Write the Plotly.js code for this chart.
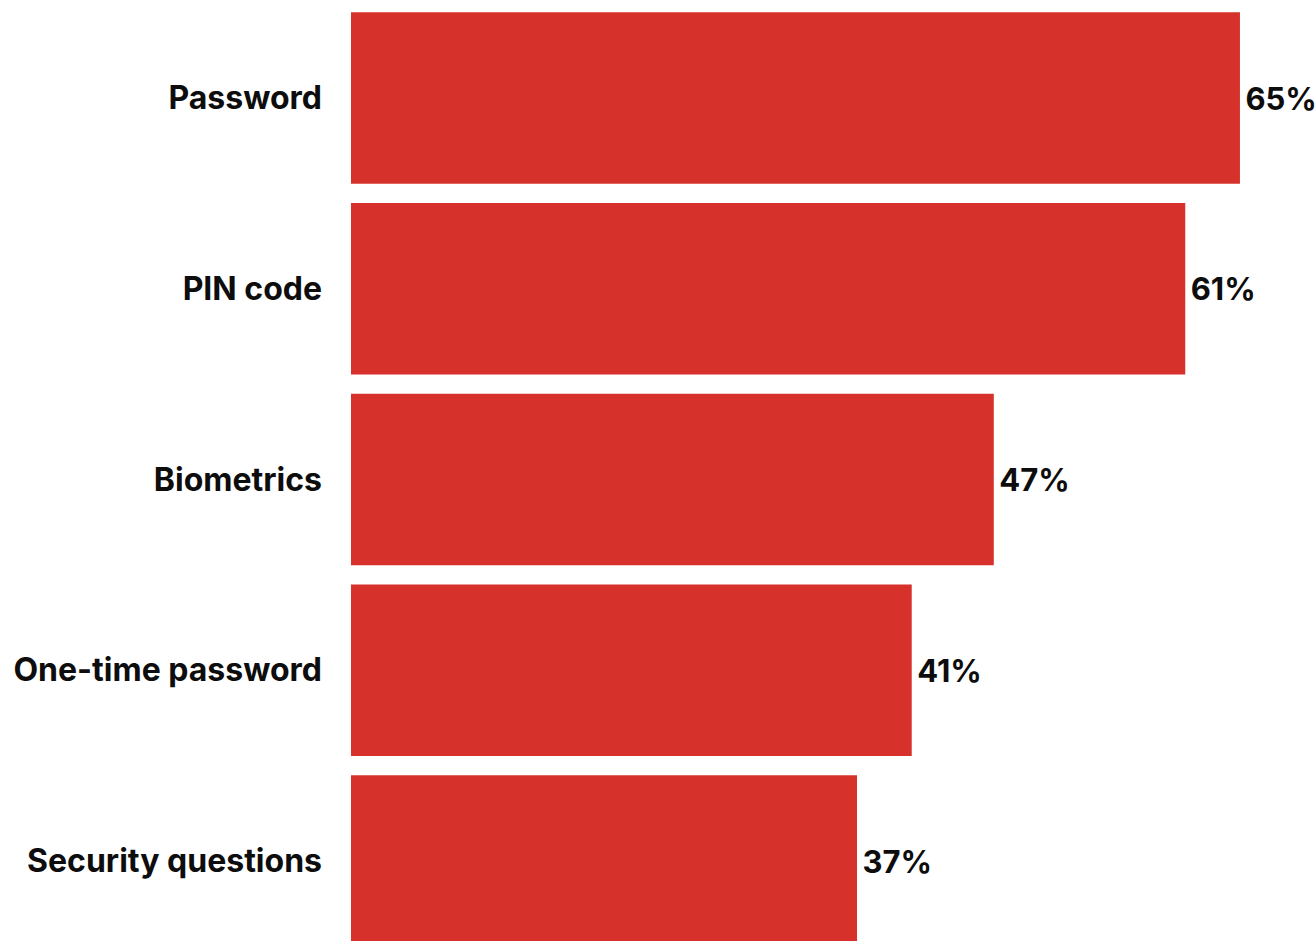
<!DOCTYPE html>
<html>
<head>
<meta charset="utf-8">
<script src="https://cdn.plot.ly/plotly-3.0.1.min.js"></script>
<style>html,body{margin:0;padding:0;background:#fff;}#chart{width:1316px;height:941px;}</style>
</head>
<body>
<div id="chart"></div>
<script>
const categories = ["Password", "PIN code", "Biometrics", "One-time password", "Security questions"];
const values = [65, 61, 47, 41, 37];
const valueLabels = ["65%", "61%", "47%", "41%", "37%"];

const fontFamily = "Inter, 'Open Sans', Arial, sans-serif";

Plotly.newPlot("chart", [{
  type: "bar",
  orientation: "h",
  y: categories,
  x: values,
  text: valueLabels.map(function (t) { return "\u200A" + t; }),
  textposition: "outside",
  cliponaxis: false,
  textfont: {family: fontFamily, size: 31, color: "#0d0d0d", weight: 700},
  marker: {color: "#D6312B"},
  hoverinfo: "none"
}], {
  width: 1316,
  height: 941,
  margin: {l: 351, r: 0, t: 0, b: 0, pad: 0},
  paper_bgcolor: "#ffffff",
  plot_bgcolor: "#ffffff",
  bargap: 0.1,
  showlegend: false,
  xaxis: {range: [0, 70.56], visible: false, fixedrange: true},
  yaxis: {
    type: "category",
    range: [4.4194, -0.5138],
    showgrid: false, zeroline: false, showline: false, ticks: "",
    ticklabelstandoff: 28,
    tickfont: {family: fontFamily, size: 32, color: "#0d0d0d", weight: 700},
    fixedrange: true
  }
}, {displayModeBar: false, staticPlot: true});
</script>
</body>
</html>
